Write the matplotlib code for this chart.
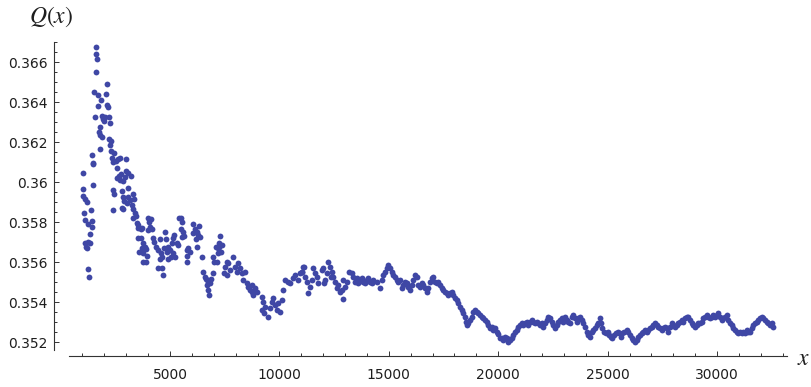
import matplotlib
matplotlib.use("Agg")
import matplotlib.pyplot as plt
from matplotlib.ticker import FixedLocator
import numpy as np

# Q(x) values, split into x ranges
x_spike = [
    1010, 1037, 1037, 1056, 1115, 1115, 1115, 1174, 1193, 1193,
    1238, 1266, 1266, 1298, 1344, 1344, 1389, 1421, 1435, 1449,
    1460, 1481, 1494, 1526, 1558, 1604, 1618, 1631, 1677, 1695,
    1723, 1741, 1787, 1814, 1814, 1846, 1892, 1906, 1951, 1997,
    2029, 2088, 2107, 2120, 2152, 2226, 2226, 2244, 2271, 2303,
    2317, 2363, 2381, 2381, 2408, 2427, 2454, 2532, 2564, 2564,
    2637, 2669, 2715, 2715, 2760, 2792, 2820, 2838, 2865, 2865,
    2897, 2957, 2975, 3002, 3048, 3066, 3094, 3094, 3172, 3217,
    3277, 3309, 3322, 3322, 3368, 3386, 3446, 3478, 3523, 3551,
    3551, 3597,
]
q_spike = [
    0.35965, 0.36045, 0.3593, 0.35845, 0.35914, 0.3581, 0.35694, 0.35674, 0.359, 0.35669,
    0.35699, 0.35792, 0.35565, 0.35527, 0.3574, 0.35694, 0.35859, 0.35775, 0.35805, 0.36137,
    0.36089, 0.36095, 0.35985, 0.36452, 0.36325, 0.36677, 0.36639, 0.36552, 0.36617, 0.36435,
    0.36382, 0.36249, 0.36277, 0.36235, 0.36167, 0.3641, 0.36227, 0.3633, 0.36314, 0.36304,
    0.36325, 0.36438, 0.36385, 0.36489, 0.36377, 0.36327, 0.36217, 0.36185, 0.36294, 0.36207,
    0.36155, 0.36119, 0.36102, 0.3586, 0.35962, 0.3594, 0.36144, 0.36107, 0.36072, 0.3602,
    0.36115, 0.3603, 0.36122, 0.3601, 0.36042, 0.35955, 0.35869, 0.35927, 0.36004, 0.35864,
    0.35904, 0.36024, 0.36055, 0.36114, 0.35894, 0.36045, 0.35972, 0.35927, 0.3591, 0.3603,
    0.35887, 0.35942, 0.35865, 0.3582, 0.35914, 0.35844, 0.3583, 0.35797, 0.35785, 0.35772,
    0.35719, 0.35652,
]

x_early = [
    3661, 3674, 3706, 3706, 3752, 3779, 3779, 3857, 3903, 3903,
    3935, 4008, 4008, 4054, 4086, 4131, 4163, 4236, 4282, 4360,
    4465, 4465, 4543, 4543, 4575, 4620, 4620, 4666, 4725, 4771,
    4817, 4849, 4894, 4922, 5000, 5032, 5077, 5123, 5150, 5196,
    5228, 5306, 5379, 5425, 5489, 5502, 5534, 5534, 5580, 5639,
    5763, 5763, 5790, 5836, 5914, 6037, 6064, 6142, 6188, 6220,
    6247, 6293, 6339, 6371, 6448, 6494, 6599, 6645, 6677, 6750,
    6750, 6796, 6828, 6887, 6951, 6951, 7010, 7102, 7134, 7179,
    7207, 7239, 7253, 7285, 7330, 7362, 7481, 7513, 7591, 7591,
    7664, 7742, 7892, 7970, 8048, 8121, 8199, 8276, 8349, 8427,
    8505, 8578, 8656, 8733, 8733, 8806, 8884, 8962, 9190, 9190,
    9263, 9309, 9341, 9492, 9570, 9647, 9720, 9798, 9876, 9949,
    10027, 10104, 10177, 10255, 10378, 10484, 10634, 10712, 10835, 10941,
    11018, 11046, 11091, 11137,
]
q_early = [
    0.35764, 0.35719, 0.35769, 0.35669, 0.356, 0.35694, 0.35644, 0.35677, 0.35664, 0.356,
    0.3563, 0.35819, 0.3576, 0.35802, 0.35777, 0.35815, 0.35764, 0.35719, 0.35702, 0.35677,
    0.3566, 0.35569, 0.35714, 0.35614, 0.35644, 0.35627, 0.35569, 0.35535, 0.35669, 0.35752,
    0.35714, 0.35652, 0.35614, 0.35677, 0.3566, 0.35624, 0.35694, 0.35644, 0.35719, 0.35735,
    0.35627, 0.35694, 0.35685, 0.35819, 0.35764, 0.35819, 0.35802, 0.35724, 0.35752, 0.3573,
    0.3566, 0.35602, 0.3563, 0.35669, 0.35652, 0.3579, 0.35744, 0.35764, 0.35714, 0.35752,
    0.35677, 0.35735, 0.3578, 0.35727, 0.35624, 0.35552, 0.35527, 0.35514, 0.35485, 0.35502,
    0.3546, 0.35435, 0.35494, 0.35514, 0.35544, 0.35627, 0.35602, 0.35677, 0.35602, 0.35644,
    0.35669, 0.35677, 0.35694, 0.3573, 0.35652, 0.35685, 0.35547, 0.35577, 0.35602, 0.35535,
    0.35594, 0.3556, 0.35627, 0.35577, 0.35552, 0.35594, 0.35569, 0.35544, 0.3551, 0.35552,
    0.35494, 0.35477, 0.3546, 0.35485, 0.35452, 0.35435, 0.35469, 0.35452, 0.35427, 0.3536,
    0.35402, 0.35344, 0.35377, 0.35327, 0.35369, 0.35402, 0.35419, 0.35385, 0.3536, 0.35394,
    0.35352, 0.3541, 0.3546, 0.3551, 0.35502, 0.35494, 0.35519, 0.35535, 0.3551, 0.35544,
    0.35552, 0.35552, 0.35577, 0.35577,
]

x_mid = [
    11169, 11247, 11320, 11398, 11475, 11548, 11626, 11704, 11777, 11932,
    12005, 12037, 12083, 12161, 12234, 12312, 12344, 12389, 12462, 12540,
    12618, 12691, 12769, 12846, 12892, 12919, 12997, 13075, 13194, 13303,
    13376, 13454, 13532, 13605, 13683, 13760, 13833, 13911, 13989, 14062,
    14140, 14217, 14290, 14446, 14597, 14674, 14747, 14825, 14903, 14976,
    15054, 15131, 15204, 15282, 15360, 15433, 15511, 15588, 15661, 15739,
    15817, 15890, 15968, 16045, 16118, 16196, 16274, 16347, 16425, 16502,
    16575, 16653, 16731, 16804, 16882, 16959, 17032, 17110, 17188, 17261,
    17339, 17416, 17489, 17567, 17645, 17718, 17796, 17873, 17946, 18024,
    18102, 18175, 18253, 18330, 18403, 18481, 18513, 18559, 18632, 18710,
    18787, 18860, 18938, 19016, 19089, 19167, 19244, 19317, 19395, 19473,
    19546, 19624, 19701, 19774,
]
q_mid = [
    0.35527, 0.35502, 0.35447, 0.35477, 0.3551, 0.35569, 0.35544, 0.35527, 0.35494, 0.3556,
    0.35569, 0.35494, 0.3551, 0.35544, 0.35602, 0.35577, 0.35527, 0.35552, 0.35527, 0.35502,
    0.35469, 0.35485, 0.35452, 0.3546, 0.35414, 0.3551, 0.35477, 0.35502, 0.35552, 0.35544,
    0.35527, 0.35502, 0.35519, 0.35494, 0.3551, 0.35519, 0.35502, 0.35494, 0.3551, 0.35519,
    0.35502, 0.35494, 0.3551, 0.35502, 0.35469, 0.3551, 0.35535, 0.35552, 0.35569, 0.35585,
    0.35569, 0.35552, 0.35535, 0.35527, 0.3551, 0.35502, 0.3551, 0.35469, 0.35485, 0.35502,
    0.35494, 0.35477, 0.3546, 0.35485, 0.3551, 0.35535, 0.35527, 0.35485, 0.35477, 0.35494,
    0.35485, 0.35469, 0.35452, 0.35469, 0.35502, 0.35519, 0.35527, 0.35502, 0.35494, 0.35502,
    0.35485, 0.35469, 0.3546, 0.35452, 0.35444, 0.35435, 0.35444, 0.35452, 0.35435, 0.35419,
    0.3541, 0.35394, 0.35377, 0.3536, 0.35344, 0.35327, 0.35302, 0.35285, 0.35294, 0.3531,
    0.35327, 0.35352, 0.3536, 0.35352, 0.35344, 0.35335, 0.35327, 0.35319, 0.3531, 0.35302,
    0.35285, 0.35269, 0.35277, 0.3526,
]

x_late = [
    19852, 19930, 20003, 20081, 20158, 20231, 20309, 20387, 20460, 20538,
    20615, 20688, 20766, 20844, 20917, 20995, 21072, 21145, 21223, 21301,
    21374, 21452, 21529, 21602, 21680, 21758, 21831, 21909, 21986, 22059,
    22137, 22215, 22288, 22366, 22443, 22516, 22594, 22672, 22745, 22823,
    22900, 22973, 23051, 23129, 23202, 23280, 23357, 23430, 23508, 23586,
    23659, 23737, 23814, 23887, 23965, 24043, 24116, 24194, 24271, 24344,
    24422, 24500, 24573, 24651, 24696, 24756, 24847, 24911, 25002, 25062,
    25153, 25213, 25304, 25368, 25459, 25519, 25610, 25670, 25761, 25871,
    25944, 26022, 26099, 26172, 26250, 26328, 26401, 26479, 26556, 26629,
    26707, 26785, 26858, 26936, 27013, 27086, 27164, 27242, 27315, 27393,
    27470, 27543, 27621, 27699, 27772, 27850, 27927, 28000, 28078, 28156,
    28229, 28307, 28384, 28457, 28535, 28613, 28686, 28764, 28841, 28914,
    28992, 29070, 29143, 29221, 29298, 29371, 29449, 29527, 29600, 29678,
    29755, 29828, 29906, 29984, 30057, 30135, 30212, 30285, 30363, 30441,
    30514, 30592, 30669, 30742, 30820, 30898, 30971, 31049, 31126, 31199,
    31277, 31355, 31428, 31506, 31583, 31656, 31734, 31812, 31885, 31963,
    32040, 32113, 32191, 32269, 32342, 32420, 32497, 32570,
]
q_late = [
    0.35268, 0.35252, 0.3524, 0.35218, 0.35219, 0.3521, 0.35227, 0.35219, 0.35202, 0.3521,
    0.35219, 0.35235, 0.35252, 0.3526, 0.35277, 0.35285, 0.35294, 0.35285, 0.35294, 0.35302,
    0.35285, 0.35302, 0.3531, 0.35302, 0.35294, 0.35302, 0.35294, 0.35285, 0.35294, 0.35277,
    0.35294, 0.3531, 0.35327, 0.35319, 0.35302, 0.35285, 0.35269, 0.35285, 0.35302, 0.3531,
    0.35319, 0.35302, 0.35327, 0.3531, 0.35302, 0.35294, 0.35327, 0.35335, 0.35319, 0.35302,
    0.35319, 0.35327, 0.3531, 0.35294, 0.35277, 0.35252, 0.35235, 0.35227, 0.35252, 0.3526,
    0.35269, 0.35285, 0.35294, 0.35319, 0.35294, 0.35269, 0.35252, 0.35244, 0.35252, 0.35235,
    0.35227, 0.35219, 0.35235, 0.35244, 0.35252, 0.35244, 0.35227, 0.35244, 0.35252, 0.3526,
    0.35252, 0.35235, 0.35219, 0.3521, 0.35202, 0.3521, 0.35227, 0.35235, 0.35244, 0.35252,
    0.3526, 0.35252, 0.3526, 0.35269, 0.35277, 0.35285, 0.35294, 0.35285, 0.35277, 0.35269,
    0.3526, 0.35269, 0.35277, 0.35269, 0.35252, 0.35277, 0.35294, 0.35285, 0.35277, 0.35285,
    0.35294, 0.35302, 0.3531, 0.35302, 0.35319, 0.35327, 0.35327, 0.3531, 0.35294, 0.35285,
    0.35277, 0.35285, 0.35294, 0.35294, 0.35302, 0.35319, 0.35327, 0.35335, 0.35327, 0.35319,
    0.35327, 0.35335, 0.35327, 0.35335, 0.35344, 0.35327, 0.3531, 0.35319, 0.35327, 0.35335,
    0.3531, 0.35294, 0.35285, 0.35269, 0.3526, 0.35252, 0.35244, 0.35252, 0.35244, 0.35252,
    0.35244, 0.3526, 0.35252, 0.35252, 0.35269, 0.35285, 0.35294, 0.35302, 0.3531, 0.35319,
    0.35327, 0.35319, 0.3531, 0.35302, 0.35294, 0.35285, 0.35294, 0.35277,
]

x_major = [5000, 10000, 15000, 20000, 25000, 30000]
x_labels = ["5000", "10000", "15000", "20000", "25000", "30000"]
y_major = [0.352, 0.354, 0.356, 0.358, 0.360, 0.362, 0.364, 0.366]
y_labels = ["0.352", "0.354", "0.356", "0.358", "0.36", "0.362", "0.364", "0.366"]

POINT_COLOR = "#3f47a5"
AXIS_COLOR = "#333333"
TEXT_COLOR = "#1e1e1e"

plt.rcParams["mathtext.fontset"] = "stix"

xs = np.concatenate([x_spike, x_early, x_mid, x_late])
qs = np.concatenate([q_spike, q_early, q_mid, q_late])

fig = plt.figure(figsize=(8.12, 3.87), dpi=100)
ax = fig.add_axes([54 / 812, 31 / 387, 736 / 812, 316 / 387])

ax.plot(xs, qs, "o", ms=4.2, mfc=POINT_COLOR, mec="none", clip_on=False)

ax.set_xlim(-302, 33333)
ax.set_ylim(0.3513, 0.3671)

for side in ("top", "right"):
    ax.spines[side].set_visible(False)
ax.spines["left"].set_bounds(0.3516, 0.367)
ax.spines["bottom"].set_bounds(384, 33200)
for side in ("left", "bottom"):
    ax.spines[side].set_color(AXIS_COLOR)
    ax.spines[side].set_linewidth(0.8)

ax.set_xticks(x_major)
ax.set_xticklabels(x_labels)
ax.set_yticks(y_major)
ax.set_yticklabels(y_labels)
ax.xaxis.set_minor_locator(FixedLocator(np.arange(1000, 33001, 1000)))
ax.yaxis.set_minor_locator(FixedLocator(np.arange(0.352, 0.36701, 0.0005)))

ax.tick_params(which="both", direction="in", color=AXIS_COLOR, width=0.7)
ax.tick_params(which="major", length=3.6)
ax.tick_params(which="minor", length=2.2)
ax.tick_params(axis="y", labelsize=10, labelcolor=TEXT_COLOR, pad=4.5)
ax.tick_params(axis="x", labelsize=10, labelcolor=TEXT_COLOR, pad=8.5)

fig.text(51 / 812, 1 - 17 / 387, r"$Q(x)$", fontsize=17, color=TEXT_COLOR,
         ha="center", va="center")
fig.text(804 / 812, 1 - 358 / 387, r"$x$", fontsize=17, color=TEXT_COLOR,
         ha="center", va="center")

fig.savefig("out.png", dpi=100)
